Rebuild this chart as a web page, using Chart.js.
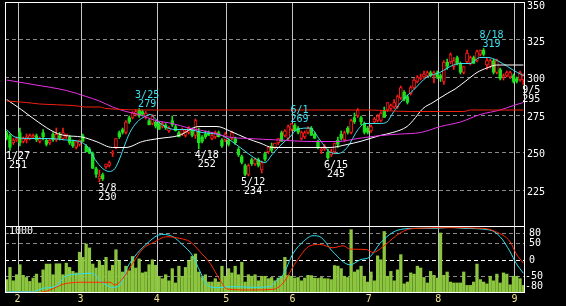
<!DOCTYPE html>
<html>
<head>
<meta charset="utf-8">
<title>chart</title>
<script src="https://cdn.jsdelivr.net/npm/chart.js@4.4.0/dist/chart.umd.min.js"></script>
<style>
  body { margin: 0; background: #000; }
  #wrap { position: relative; width: 566px; height: 306px; background: #000; overflow: hidden; }
  canvas { position: absolute; left: 0; background: #000; }
  #priceChart { top: 0; }
  #volChart { top: 226px; }
</style>
</head>
<body>
<div id="wrap">
  <canvas id="priceChart" width="566" height="227"></canvas>
  <canvas id="volChart" width="566" height="80"></canvas>
</div>
<script>
// daily candles, late Jan .. 9/5 (one entry per trading day)
const opens = [263,261,256,258,263,257,258,259,260,261, 257,263,258,256,262,258,261,259,261,260,
  257,253,255,261,254,252,249,239,232,235, 240,241,249,253,263,265,263,273,273,275,
  278,277,273,271,269,270,269,267,268,264, 271,267,263,262,261,263,265,261,264,260,
  262,263,259,260,263,258,258,258,259,259, 252,247,241,235,245,242,245,238,249,250,
  254,253,256,263,261,259,265,268,266,259, 260,263,266,262,257,251,252,250,248,250,
  258,262,258,266,263,273,274,273,269,266, 264,270,271,271,278,278,279,280,280,286,
  290,287,289,293,297,299,300,301,303,301, 303,301,297,310,310,307,313,309,303,310,
  309,313,311,315,318,308,307,311,303,305, 300,301,300,301,299,298,298];
const highs = [264,262,259,260,266,260,262,262,262,262, 260,265,259,259,263,266,263,266,262,261,
  258,257,258,262,255,253,250,240,238,236, 242,244,251,259,264,266,271,274,277,278,
  279,278,277,272,275,271,270,270,269,267, 274,268,264,266,265,267,266,272,266,261,
  264,264,262,264,264,259,263,259,264,260, 253,248,242,242,246,246,246,244,250,253,
  256,256,259,264,265,268,269,269,267,264, 264,267,267,263,258,253,255,252,252,256,
  260,264,264,267,272,276,279,274,270,267, 268,273,275,277,280,283,282,285,288,294,
  291,288,294,299,301,302,304,304,304,304, 304,302,311,312,316,313,314,310,307,318,
  314,314,318,318,319,313,312,312,312,306, 302,304,304,302,300,304,302];
const lows = [258,251,255,257,254,256,256,258,259,257, 256,258,254,255,257,257,258,258,259,255,
  253,252,254,257,250,249,239,233,230,231, 239,240,247,252,259,262,262,269,272,274,
  273,274,272,268,268,266,265,266,265,263, 267,264,260,261,260,262,260,259,252,256,
  259,261,258,259,260,253,257,254,258,255, 247,242,234,234,241,241,240,236,244,249,
  250,252,255,257,260,258,264,264,262,258, 259,262,261,259,252,249,251,245,247,249,
  253,258,257,262,262,269,273,268,262,262, 263,269,270,270,273,277,278,279,279,285,
  284,282,288,292,296,298,299,300,300,296, 299,297,295,305,309,305,308,302,302,309,
  308,309,310,314,314,305,306,302,302,298, 298,300,299,296,296,297,295];
const closes = [259,253,258,259,256,259,260,261,261,258, 259,260,255,258,258,262,259,263,262,256,
  254,257,258,257,250,249,239,235,234,232, 242,243,250,259,260,263,270,270,276,277,
  274,275,276,268,274,267,265,269,266,266, 268,264,260,265,264,266,261,271,256,257,
  260,261,261,263,260,254,262,255,263,256, 248,243,235,241,242,245,241,243,245,253,
  251,256,259,257,264,267,269,264,263,263, 263,266,261,259,253,252,254,246,250,256,
  255,259,263,263,271,270,278,270,263,263, 267,272,274,276,273,283,281,283,287,293,
  285,283,293,298,300,300,302,303,301,303, 300,299,310,307,315,311,309,303,307,316,
  313,309,317,318,315,311,311,303,311,299, 301,303,303,297,297,303,301];
const volumes = [220,420,200,300,465,290,255,190,245,310, 165,380,475,475,300,480,480,300,490,420,
  355,330,670,585,805,740,475,410,530,455, 585,365,455,710,530,345,440,365,600,410,
  560,330,345,465,545,455,275,235,300,200, 400,165,440,275,420,530,600,640,345,255,
  300,180,180,235,180,440,275,400,330,440, 300,505,180,300,275,300,200,275,275,235,
  255,200,245,275,585,290,275,245,255,200, 245,290,285,245,240,255,235,235,220,450,
  440,400,275,255,1040,345,380,440,275,180, 345,200,610,545,1010,275,355,200,380,630,
  150,180,330,310,440,410,255,165,355,290, 245,985,290,345,180,165,165,165,345,125,
  125,180,475,220,180,150,275,200,310,165, 330,310,135,275,275,235,125];

// moving averages as [day, price]
const maShort = [[0,265],[2.5,260],[7,259],[13,259],[18,258],[22,257],[24.6,253],[26.7,245],[29,239],[31,237],
  [32.7,239],[34.2,246],[35.7,255],[37.2,263],[39.4,270],[41.2,273],[43.3,275],[45.4,271],[47.8,267],[50.8,265],
  [54.8,265],[59,263],[65,261],[70.5,253],[73.5,248],[75.6,245],[78,243],[80.4,249],[83.4,256],[85.5,260],
  [87.7,265],[91.6,266],[94.6,258],[97.6,250],[100,249],[102.8,253],[106.1,265],[108.2,269],[112.7,269],[114.8,270],
  [116.6,276],[119.7,285],[122.7,291],[126.9,300],[130.8,303],[133.9,307],[136.9,309],[139.9,309],[142.9,313],[145.3,313],
  [148.1,311],[151.2,307],[154.2,303],[156,301]];
const maMid = [[0,285],[4.6,278],[9.5,270],[14.6,263],[17.6,261],[22.7,260],[27,257],[32,253],[36,253],[41,257],
  [46,259],[52,261],[58,267],[63.5,267],[67.4,264],[72.6,259],[76.5,256],[80.4,253],[86.5,253],[92.5,253],
  [97.6,253],[102.8,255],[106.7,257],[112.7,261],[116.6,263],[120.9,267],[122.7,271],[125.7,279],[128.7,283],[133,289],
  [135.4,292],[139,298],[142,303],[145,306],[148,308],[150,308],[156,308]];
const maLong = [[0,298],[8,295],[18,291],[24,287],[28,284],[32,280],[36,277],[40,275],[45,271],[50,269],
  [55,266],[62,263],[67,260],[73,259],[82,258],[92,257],[100,257],[106,259],[113,261],[119,262],
  [125,263],[131,267],[137,270],[143,275],[149,278],[153,281],[156,283]];
const maYear = [[0,284],[6,283],[10,282],[20,281],[24,280],[28,280],[30,279],[45,278],[100,278],[110,278],
  [115,277.5],[122,277],[138,277],[140,278],[156,278]];

// oscillators in the lower panel, [day, value]
const oscFast = [[0,-96],[8,-96],[11,-86],[15.2,-78],[17.6,-51],[22.1,-43],[25.8,-41],[28.2,-64],[32.1,-83],[34.2,-76],
  [36.3,-26],[39.4,18],[42.4,48],[45.4,71],[47.2,75],[50.2,68],[53.2,43],[56,13],[58.4,-36],[60.5,-76],
  [63.5,-84],[68.3,-81],[74.4,-83],[79.5,-81],[81.6,-61],[83.4,-46],[86.5,18],[89.5,53],[92.5,71],[94.6,68],
  [98.5,23],[103.7,-16],[106.7,-1],[109.7,8],[112.7,48],[116.6,81],[119.7,91],[123.6,93],[129.6,93],[133.9,96],
  [137.8,93],[145.9,88],[149,68],[152,23],[153.8,-11],[156,-41]];
const oscSlow = [[0,-98],[10,-98],[13.1,-91],[17,-74],[22.1,-68],[31.2,-68],[32.7,-76],[35.1,-56],[38.1,-11],[41.2,33],
  [44.2,50],[48.4,68],[52.3,63],[55.4,53],[58.4,23],[61.4,-11],[64.4,-61],[66.5,-88],[73.5,-91],[80.4,-89],
  [83.4,-71],[87.4,-7],[91.6,41],[94.6,45],[98.5,35],[101.6,41],[103.7,31],[108.5,30],[110.6,21],[113.6,38],
  [117.6,71],[120.6,88],[123.6,93],[133.9,95],[143.8,93],[147.7,83],[152,53],[153.8,18],[156,-11]];

const monthLabels = ['2', '3', '4', '5', '6', '7', '8', '9'];
const monthStart = [3, 22, 45, 66, 86, 109, 130, 153];
const priceTicks = [350, 325, 300, 275, 250, 225];
const oscTicks = [80, 50, 0, -50, -80];

// high / low markers
const markDay = [1, 28, 40, 58, 72, 86, 97, 144, 156];
const markDate = ['1/27', '3/8', '3/25', '4/18', '5/12', '6/1', '6/15', '8/18', '9/5'];
const markHigh = [false, false, true, false, false, true, false, true, false];

const UP = '#ff1a1a';
const DOWN = '#1ee01e';
const CYAN = '#3fe0f0';
const FONT = '10px "DejaVu Sans Mono"';

function pts(pairs) {
  return pairs.map(p => ({ x: p[0], y: p[1] }));
}

function line(pairs, color, axis) {
  return {
    type: 'line', data: pts(pairs), yAxisID: axis, order: 0,
    borderColor: color, borderWidth: 1, pointRadius: 0,
    cubicInterpolationMode: 'monotone'
  };
}

function xAxis() {
  return { type: 'linear', min: -0.5, max: closes.length - 0.5, offset: false, display: false };
}

function monthLines(chart) {
  const { ctx, chartArea: a, scales: { x } } = chart;
  ctx.save();
  ctx.strokeStyle = '#c4c4c4';
  ctx.lineWidth = 1;
  monthStart.forEach(m => {
    const px = Math.round(x.getPixelForValue(m + 0.3)) + 0.5;
    ctx.beginPath();
    ctx.moveTo(px, a.top);
    ctx.lineTo(px, a.bottom);
    ctx.stroke();
  });
  ctx.restore();
}

function dashed(chart, scale, v, color) {
  const { ctx, chartArea: a } = chart;
  const py = Math.round(scale.getPixelForValue(v)) + 0.5;
  ctx.save();
  ctx.strokeStyle = color;
  ctx.lineWidth = 1;
  ctx.setLineDash([4, 3]);
  ctx.beginPath();
  ctx.moveTo(a.left, py);
  ctx.lineTo(a.right, py);
  ctx.stroke();
  ctx.restore();
}

function frame(chart) {
  const { ctx, chartArea: a } = chart;
  ctx.save();
  ctx.strokeStyle = '#ffffff';
  ctx.lineWidth = 1;
  ctx.strokeRect(a.left + 0.5, a.top + 0.5, a.right - a.left - 1, a.bottom - a.top - 1);
  ctx.restore();
}

const pricePanel = {
  id: 'pricePanel',
  beforeDatasetsDraw(chart) {
    const y = chart.scales.y;
    priceTicks.slice(1).forEach(v => dashed(chart, y, v, '#8a8a8a'));
    monthLines(chart);
  },
  afterDatasetsDraw(chart) {
    const { ctx, chartArea: a, scales: { x, y } } = chart;
    frame(chart);
    ctx.save();
    ctx.font = FONT;
    ctx.textBaseline = 'middle';
    ctx.textAlign = 'left';
    ctx.fillStyle = '#ffffff';
    priceTicks.forEach(v => {
      // top label sits a little lower so it is not cut off
      const py = Math.max(y.getPixelForValue(v) + 2.5, 6);
      ctx.fillText(String(v), a.right + 2, py);
    });

    ctx.textAlign = 'center';
    markDay.forEach((d, k) => {
      const cx = x.getPixelForValue(d) + 8;
      if (markHigh[k]) {
        const top = y.getPixelForValue(highs[d]);
        ctx.fillStyle = CYAN;
        ctx.textBaseline = 'bottom';
        ctx.fillText(markDate[k], cx, top - 8);
        ctx.fillText(String(highs[d]), cx, top + 1);
      } else {
        const bot = y.getPixelForValue(lows[d]);
        ctx.fillStyle = '#ffffff';
        ctx.textBaseline = 'top';
        ctx.fillText(markDate[k], cx, bot + 1);
        ctx.fillText(String(lows[d]), cx, bot + 10);
      }
    });
    ctx.restore();
  }
};

const volPanel = {
  id: 'volPanel',
  beforeDatasetsDraw(chart) {
    const o = chart.scales.yOsc;
    oscTicks.forEach(v => {
      if (v === -80) return;
      dashed(chart, o, v, v === 0 ? '#ffffff' : '#8a8a8a');
    });
    monthLines(chart);
  },
  afterDatasetsDraw(chart) {
    const { ctx, chartArea: a, scales: { x, yOsc } } = chart;
    frame(chart);
    ctx.save();
    ctx.font = FONT;
    ctx.fillStyle = '#ffffff';
    ctx.textBaseline = 'middle';
    ctx.textAlign = 'left';
    oscTicks.forEach(v => {
      ctx.fillText(String(v), v < 0 ? a.right : a.right + 4, yOsc.getPixelForValue(v) + 0.5);
    });
    ctx.fillText('1000', a.left + 4, a.top + 5);

    ctx.fillStyle = '#f2e48a';
    ctx.textAlign = 'center';
    monthStart.forEach((m, k) => {
      ctx.fillText(monthLabels[k], x.getPixelForValue(m + 0.3), a.bottom + 6);
    });
    ctx.restore();
  }
};

const candleWicks = {
  type: 'bar', order: 2, grouped: false, barThickness: 1, yAxisID: 'y',
  data: highs.map((h, i) => ({ x: i, y: [lows[i], h] })),
  backgroundColor: closes.map((c, i) => c >= opens[i] ? UP : DOWN)
};

const candleBodies = {
  type: 'bar', order: 1, grouped: false, barThickness: 3, yAxisID: 'y',
  data: opens.map((o, i) => ({ x: i, y: [o, closes[i]] })),
  backgroundColor: closes.map((c, i) => c >= opens[i] ? '#000000' : DOWN),
  borderColor: closes.map((c, i) => c >= opens[i] ? UP : DOWN),
  borderWidth: 1,
  borderSkipped: false
};

const common = {
  responsive: false,
  animation: false,
  events: [],
  plugins: { legend: { display: false }, tooltip: { enabled: false } }
};

new Chart(document.getElementById('priceChart'), {
  type: 'bar',
  data: {
    datasets: [
      line(maYear, '#f02010', 'y'),
      line(maLong, '#e832e8', 'y'),
      line(maMid, '#ffffff', 'y'),
      line(maShort, CYAN, 'y'),
      candleBodies,
      candleWicks
    ]
  },
  options: Object.assign({}, common, {
    layout: { padding: { left: 5, right: 41, top: 2, bottom: 0 } },
    scales: {
      x: xAxis(),
      y: { min: 200, max: 350, display: false }
    }
  }),
  plugins: [pricePanel]
});

new Chart(document.getElementById('volChart'), {
  type: 'bar',
  data: {
    datasets: [
      line(oscSlow, '#ff2a00', 'yOsc'),
      line(oscFast, '#2ee0f0', 'yOsc'),
      {
        type: 'bar', order: 2, yAxisID: 'yVol', barThickness: 2.6,
        data: volumes.map((v, i) => ({ x: i, y: v })),
        backgroundColor: '#8cc63e'
      }
    ]
  },
  options: Object.assign({}, common, {
    layout: { padding: { left: 5, right: 41, top: 0, bottom: 13 } },
    scales: {
      x: xAxis(),
      yVol: { min: 0, max: 1100, display: false },
      yOsc: { min: -100, max: 100, display: false }
    }
  }),
  plugins: [volPanel]
});
</script>
</body>
</html>
